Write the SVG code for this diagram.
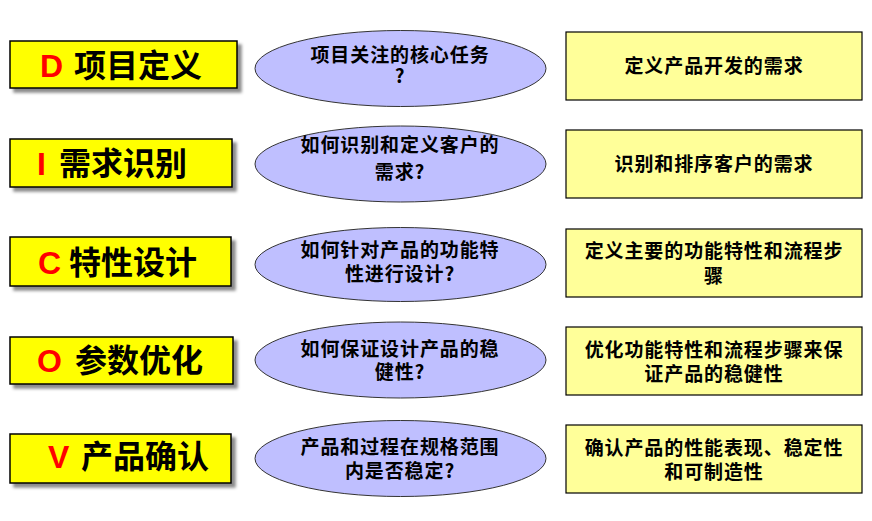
<svg xmlns="http://www.w3.org/2000/svg" width="872" height="521" viewBox="0 0 872 521">
<defs>
<filter id="sh" x="-5%" y="-20%" width="115%" height="150%">
<feDropShadow dx="4" dy="4" stdDeviation="1.6" flood-color="#000" flood-opacity="0.45"/>
</filter>
<style>
.lb{fill:#FFFF00;stroke:#000;stroke-width:1.5;filter:url(#sh)}
.rb{fill:#FFFF99;stroke:#000;stroke-width:1.2}
.el{fill:#BFBFFF;stroke:#333;stroke-width:1}
.cjk{font-family:"Noto Sans CJK SC","Noto Sans",sans-serif;font-weight:bold;fill:#000}
.big{font-size:32px}
.mid{font-size:19px;letter-spacing:0.9px;text-anchor:middle}
.let{font-family:"Liberation Sans",Arial,sans-serif;font-weight:bold;fill:#FF0000;font-size:32px}
</style>
</defs>
<rect width="872" height="521" fill="#fff"/>
<g id="connectors"></g>

<g id="d-step">
<rect class="lb" x="10" y="41" width="227" height="47"/>
<text class="cjk big" y="77"><tspan class="let" x="40">D</tspan> <tspan x="74">项目定义</tspan></text>
</g>
<g id="d-question">
<ellipse class="el" cx="400.5" cy="68.5" rx="145.5" ry="38"/>
<text class="cjk mid" x="400" y="62">项目关注的核心任务</text>
<text class="cjk mid" x="400" y="83">?</text>
</g>
<g id="d-answer">
<rect class="rb" x="566" y="32" width="296" height="68"/>
<text class="cjk mid" x="714" y="73">定义产品开发的需求</text>
</g>

<g id="i-step">
<rect class="lb" x="10" y="139" width="222" height="48"/>
<text class="cjk big" y="175"><tspan class="let" x="37">I</tspan> <tspan x="59">需求识别</tspan></text>
</g>
<g id="i-question">
<ellipse class="el" cx="400.5" cy="164" rx="145.5" ry="38"/>
<text class="cjk mid" x="400" y="152">如何识别和定义客户的</text>
<text class="cjk mid" x="400" y="179">需求?</text>
</g>
<g id="i-answer">
<rect class="rb" x="566" y="130" width="296" height="68"/>
<text class="cjk mid" x="714" y="171">识别和排序客户的需求</text>
</g>

<g id="c-step">
<rect class="lb" x="10" y="237" width="221" height="49"/>
<text class="cjk big" y="274"><tspan class="let" x="38">C</tspan> <tspan x="69">特性设计</tspan></text>
</g>
<g id="c-question">
<ellipse class="el" cx="400.5" cy="264.5" rx="145.5" ry="37"/>
<text class="cjk mid" x="400" y="257">如何针对产品的功能特</text>
<text class="cjk mid" x="400" y="281">性进行设计?</text>
</g>
<g id="c-answer">
<rect class="rb" x="566" y="229" width="296" height="68"/>
<text class="cjk mid" x="714" y="258">定义主要的功能特性和流程步</text>
<text class="cjk mid" x="714" y="283">骤</text>
</g>

<g id="o-step">
<rect class="lb" x="10" y="337" width="223" height="47"/>
<text class="cjk big" y="372"><tspan class="let" x="37">O</tspan> <tspan x="75">参数优化</tspan></text>
</g>
<g id="o-question">
<ellipse class="el" cx="400.5" cy="360" rx="145.5" ry="38"/>
<text class="cjk mid" x="400" y="356">如何保证设计产品的稳</text>
<text class="cjk mid" x="400" y="379">健性?</text>
</g>
<g id="o-answer">
<rect class="rb" x="566" y="327" width="296" height="68"/>
<text class="cjk mid" x="714" y="357">优化功能特性和流程步骤来保</text>
<text class="cjk mid" x="714" y="381">证产品的稳健性</text>
</g>

<g id="v-step">
<rect class="lb" x="10" y="434" width="221" height="49"/>
<text class="cjk big" y="468"><tspan class="let" x="48">V</tspan> <tspan x="81">产品确认</tspan></text>
</g>
<g id="v-question">
<ellipse class="el" cx="400.5" cy="458.5" rx="145.5" ry="38"/>
<text class="cjk mid" x="400" y="454">产品和过程在规格范围</text>
<text class="cjk mid" x="400" y="478">内是否稳定?</text>
</g>
<g id="v-answer">
<rect class="rb" x="566" y="425" width="296" height="68"/>
<text class="cjk mid" x="714" y="455">确认产品的性能表现、稳定性</text>
<text class="cjk mid" x="714" y="479">和可制造性</text>
</g>
</svg>
